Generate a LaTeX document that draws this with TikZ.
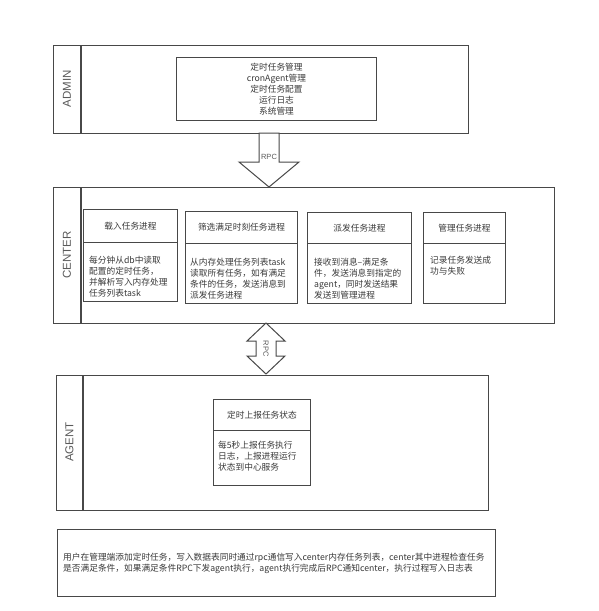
\documentclass[tikz,border=0pt]{standalone}
\usepackage{fontspec}
\setmainfont{Noto Sans CJK SC}
\newfontfamily\lanefont{Liberation Sans}
\usetikzlibrary{calc}
\definecolor{linec}{HTML}{484848}
\definecolor{txtc}{HTML}{3A3A3A}
\definecolor{lanetxt}{HTML}{5A5A5A}
\begin{document}
\begin{tikzpicture}[x=1pt,y=-1pt,
  lane/.style={draw=linec, line width=1.2pt, inner sep=0pt, anchor=north west, fill=white},
  subbox/.style={draw=linec, line width=1pt, inner sep=0pt, anchor=north west, text=txtc, font=\fontsize{8.7}{11}\selectfont, align=center},
  bodytxt/.style={inner sep=0pt, anchor=north west, align=left, text=txtc, font=\fontsize{8.7}{11}\selectfont},
  lanelabel/.style={rotate=90, text=lanetxt, font=\lanefont\fontsize{11.5}{13}\selectfont},
  blockarrow/.style={draw=linec, line width=1pt, fill=white, line join=miter},
  rpctxt/.style={text=lanetxt, font=\lanefont\fontsize{7.5}{9}\selectfont, inner sep=0pt}
]
\useasboundingbox (0,0) rectangle (599,611);
\fill[white] (0,0) rectangle (599,611);

% ADMIN lane
\node[lane, minimum width=415pt, minimum height=88pt] (admin) at (53,45) {};
\draw[linec, line width=1.2pt] ($(admin.north west)+(28,0)$) -- ($(admin.south west)+(28,0)$);
\node[lanelabel] (adminlbl) at (67,89) {ADMIN};
\node[subbox, minimum width=200pt, minimum height=63pt] (adminbox) at (176,57) {};
\node[text=txtc, font=\fontsize{8.7}{11}\selectfont, align=center, inner sep=0pt] (admintxt) at (adminbox.center) {定时任务管理\\cronAgent管理\\定时任务配置\\运行日志\\系统管理};

% CENTER lane
\node[lane, minimum width=501pt, minimum height=136pt] (center) at (53,187) {};
\draw[linec, line width=1.2pt] ($(center.north west)+(28,0)$) -- ($(center.south west)+(28,0)$);
\node[lanelabel] (centerlbl) at (67,255) {CENTER};

\node[subbox, minimum width=94pt, minimum height=33pt] (h1) at (83,209) {载入任务进程};
\node[subbox, minimum width=94pt, minimum height=59pt] (b1) at (83,242) {};
\node[bodytxt] (t1) at (89,256) {每分钟从db中读取\\配置的定时任务，\\并解析写入内存处理\\任务列表task};

\node[subbox, minimum width=112pt, minimum height=32pt] (h2) at (185,211) {筛选满足时刻任务进程};
\node[subbox, minimum width=112pt, minimum height=60pt] (b2) at (185,243) {};
\node[bodytxt] (t2) at (190,258) {从内存处理任务列表task\\读取所有任务，如有满足\\条件的任务，发送消息到\\派发任务进程};

\node[subbox, minimum width=104pt, minimum height=31pt] (h3) at (307,212) {派发任务进程};
\node[subbox, minimum width=104pt, minimum height=60pt] (b3) at (307,243) {};
\node[bodytxt] (t3) at (314,258) {接收到消息–满足条\\件，发送消息到指定的\\agent，同时发送结果\\发送到管理进程};

\node[subbox, minimum width=82pt, minimum height=31pt] (h4) at (423,212) {管理任务进程};
\node[subbox, minimum width=82pt, minimum height=60pt] (b4) at (423,243) {};
\node[bodytxt] (t4) at (430,256) {记录任务发送成\\功与失败};

% AGENT lane
\node[lane, minimum width=432pt, minimum height=135pt] (agent) at (56,375) {};
\draw[linec, line width=1.2pt] ($(agent.north west)+(27,0)$) -- ($(agent.south west)+(27,0)$);
\node[lanelabel] (agentlbl) at (69.5,442) {AGENT};
\node[subbox, minimum width=97pt, minimum height=31pt] (h5) at (213,399) {定时上报任务状态};
\node[subbox, minimum width=97pt, minimum height=55pt] (b5) at (213,430) {};
\node[bodytxt] (t5) at (218,441) {每5秒上报任务执行\\日志，上报进程运行\\状态到中心服务};

% bottom description
\node[subbox, minimum width=438pt, minimum height=67pt] (desc) at (57,529) {};
\node[bodytxt] (desctxt) at ($(desc.west)+(6,0)$) [anchor=west] {用户在管理端添加定时任务，写入数据表同时通过rpc通信写入center内存任务列表，center其中进程检查任务\\是否满足条件，如果满足条件RPC下发agent执行，agent执行完成后RPC通知center，执行过程写入日志表};

% RPC arrow admin -> center
\coordinate (a1top) at (269,133);
\coordinate (a1tip) at (269,187);
\draw[blockarrow] ($(a1top)+(-10,0)$) -- ($(a1top)+(10,0)$) -- (279,162) -- (299,162) -- (a1tip) -- (239,162) -- (259,162) -- cycle;
\node[rpctxt] (rpc1) at (269,157) {RPC};

% RPC double arrow center <-> agent
\coordinate (a2top) at (266,323);
\coordinate (a2bot) at (266,374);
\draw[blockarrow] (a2top) -- (285,341) -- (276,341) -- (276,356) -- (285,356) -- (a2bot) -- (247,356) -- (256,356) -- (256,341) -- (247,341) -- cycle;
\node[rpctxt, rotate=-90] (rpc2) at (266,348.5) {RPC};
\end{tikzpicture}
\end{document}
